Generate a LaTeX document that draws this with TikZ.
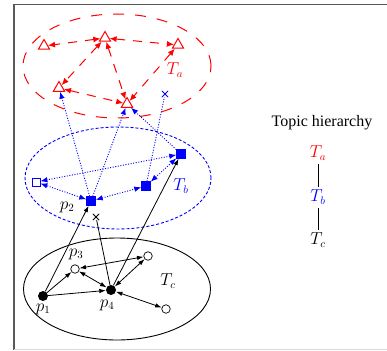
\documentclass[tikz,border=0pt]{standalone}
\usepackage{fontspec}
\setmainfont{Liberation Serif}
\usetikzlibrary{shapes.geometric,shapes.misc,arrows.meta}
\begin{document}
\begin{tikzpicture}[x=1pt,y=-1pt,
  lbl/.style={font=\fontsize{16}{19}\selectfont, inner sep=1pt},
  tri/.style={regular polygon, regular polygon sides=3, draw=red, line width=1pt, minimum size=13pt, inner sep=0pt},
  sqf/.style={rectangle, fill=blue, draw=blue, minimum size=9pt, inner sep=0pt},
  sqo/.style={rectangle, draw=blue, fill=white, line width=0.8pt, minimum size=8pt, inner sep=0pt},
  cf/.style={circle, fill=black, minimum size=10pt, inner sep=0pt},
  co/.style={circle, draw=black, fill=white, line width=0.7pt, minimum size=8.5pt, inner sep=0pt},
  xmark/.style={cross out, draw, line width=0.8pt, minimum size=5.5pt, inner sep=0pt},
  region/.style={ellipse, inner sep=0pt, minimum width=188pt, minimum height=104pt},
  rtip/.tip={Latex[length=7pt,width=6pt]},
  btip/.tip={Latex[length=7pt,width=5.5pt]},
  ktip/.tip={Latex[length=6.5pt,width=4.5pt]},
  redarr/.style={red, line width=1pt, dash pattern=on 9pt off 8pt, rtip-rtip},
  bluearr/.style={blue, line width=0.9pt, dash pattern=on 1pt off 1.6pt},
  blkarr/.style={black, line width=0.8pt}
]
\useasboundingbox (0,0) rectangle (387,350);
% frame
\draw[black!65, line width=1.3pt] (14,350) -- (14,4.3) -- (387,4.3);
\draw[black!15, line width=0.8pt] (14,349) -- (387,349);

% regions
\node[region, draw=red, line width=1pt, dash pattern=on 11pt off 11pt] (Ea) at (117,66) {};
\node[region, draw=blue, line width=0.9pt, dash pattern=on 3pt off 2pt, minimum width=186pt, minimum height=102pt] (Eb) at (118,178) {};
\node[region, draw=black, line width=0.9pt, minimum width=187pt, minimum height=102pt] (Ec) at (117,289) {};

% red topic nodes
\node[tri] (t1) at (44,46) {};
\node[tri] (t2) at (105,38) {};
\node[tri] (t3) at (178,45) {};
\node[tri] (t4) at (59,88) {};
\node[tri] (t5) at (127,104) {};
\node[lbl, text=red] (la) at (175,70) {$T_a$};
\node[xmark, draw=blue] (bx) at (165,94) {};

% blue topic nodes
\node[sqo] (b1) at (36,182) {};
\node[sqf] (p2) at (91,201) {};
\node[sqf] (b3) at (146,186) {};
\node[sqf] (b4) at (181,154) {};
\node[lbl, text=blue] (lb) at (181,186) {$T_b$};
\node[lbl] (lp2) at (67,207) {$p_2$};

% black topic nodes
\node[cf] (p1) at (43,296) {};
\node[cf] (p4) at (111,290) {};
\node[co] (p3) at (75,269) {};
\node[co] (c4) at (148,256) {};
\node[co] (c5) at (166,309) {};
\node[lbl] (lc) at (168,281) {$T_c$};
\node[lbl] (lp1) at (43,309) {$p_1$};
\node[lbl] (lp3) at (76,254) {$p_3$};
\node[lbl] (lp4) at (107,305) {$p_4$};
\node[xmark] (kx) at (96,217) {};

% red connectors
\draw[redarr] (t2) -- (t1);
\draw[redarr] (t2) -- (t3);
\draw[redarr] (t2) -- (t4);
\draw[redarr] (t2) -- (t5);
\draw[redarr] (t3) -- (t5);
\draw[redarr] (t4) -- (t5);

% blue connectors
\draw[bluearr, btip-btip] (b4) -- (b1);
\draw[bluearr, btip-btip] (p2) -- (b1);
\draw[bluearr, btip-btip] (p2) -- (b3);
\draw[bluearr, btip-btip] (b3) -- (b4);
\draw[bluearr, -btip] (p2) -- (t4);
\draw[bluearr, -btip] (p2) -- (t5);
\draw[bluearr, -btip] (b4) -- (t5);
\draw[bluearr] (b3) -- (bx);

% black connectors
\draw[blkarr, -ktip] (p1) -- (p2);
\draw[blkarr, -ktip] (p1) -- (p3);
\draw[blkarr, -ktip] (p1) -- (p4);
\draw[blkarr, ktip-ktip] (p3) -- (p4);
\draw[blkarr, ktip-ktip] (p3) -- (c4);
\draw[blkarr, ktip-ktip] (p4) -- (c4);
\draw[blkarr, ktip-ktip] (p4) -- (c5);
\draw[blkarr, -ktip] (p4) -- (b4);
\draw[blkarr] (p4) -- (kx);

% hierarchy legend
\node[lbl] (title) at (322,123) {Topic hierarchy};
\node[lbl, text=red] (ha) at (318,153) {$T_a$};
\node[lbl, text=blue] (hb) at (318,197) {$T_b$};
\node[lbl] (hc) at (318,240) {$T_c$};
\draw[line width=0.9pt, shorten <=3pt, shorten >=2pt] (ha) -- (hb);
\draw[line width=0.9pt, shorten <=3pt, shorten >=2pt] (hb) -- (hc);
\end{tikzpicture}
\end{document}
